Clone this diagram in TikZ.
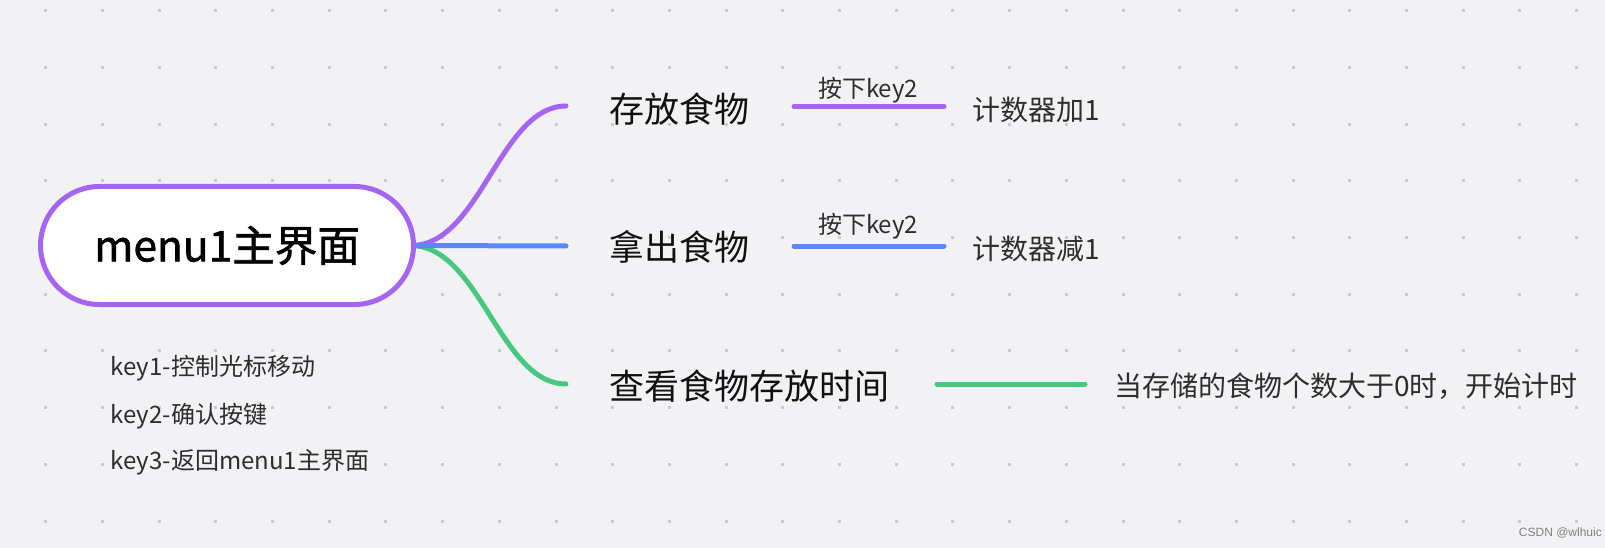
\documentclass[tikz,border=0pt]{standalone}
\usepackage{fontspec}
\newfontfamily\cjk{Noto Sans CJK SC}
\newfontfamily\cjkm{Noto Sans CJK SC}[FakeBold=1.4]
\newfontfamily\wm{Liberation Sans}
\definecolor{bg}{HTML}{F2F2F4}
\definecolor{dotc}{HTML}{CBCBCE}
\definecolor{purp}{HTML}{A465F1}
\definecolor{blu}{HTML}{5A88F8}
\definecolor{grn}{HTML}{46C881}
\definecolor{txt}{HTML}{111111}
\definecolor{subtxt}{HTML}{2E2E2E}
\pgfdeclarelayer{lines}
\pgfsetlayers{lines,main}
\tikzset{
  rootbox/.style={draw=purp, line width=5pt, fill=white, rectangle, rounded corners=59pt,
    minimum width=373pt, minimum height=118pt, inner sep=0pt, text=black,
    font=\cjkm\fontsize{42.5}{50}\selectfont},
  branchtxt/.style={anchor=west, inner sep=0pt, text=txt, font=\cjk\fontsize{35}{40}\selectfont},
  restxt/.style={anchor=west, inner sep=0pt, text=subtxt, font=\cjk\fontsize{28}{32}\selectfont},
  lbltxt/.style={inner sep=0pt, text=subtxt, font=\cjk\fontsize{24}{28}\selectfont},
  notetxt/.style={anchor=west, inner sep=0pt, text=subtxt, font=\cjk\fontsize{24}{28}\selectfont},
  br/.style={line width=5pt, line cap=round},
}
\begin{document}
\begin{tikzpicture}[x=1pt,y=-1pt]
\begin{pgfonlayer}{lines}
\fill[bg] (0,0) rectangle (1605,548);
\foreach \i in {0,...,27}{
  \foreach \j in {0,...,9}{
    \fill[dotc] ({45.7+56.7*\i-1.5},{10.7+56.7*\j-1.5}) rectangle +(3,3);
  }
}
\end{pgfonlayer}
\useasboundingbox (0,0) rectangle (1605,548);
% coordinates for branch ends
\coordinate (e1) at (566,106);
\coordinate (e2) at (566,246);
\coordinate (e3) at (566,384);
\coordinate (s1a) at (794,106.5);
\coordinate (s1b) at (944,106.5);
\coordinate (s2a) at (794,246);
\coordinate (s2b) at (944,246);
\coordinate (s3a) at (937,384);
\coordinate (s3b) at (1085,384);
% root
\node[rootbox] (root) at (227,245.5) {menu1主界面};
% main branches, behind the root
\begin{pgfonlayer}{lines}
\draw[br, purp] ([xshift=-5pt]root.east) .. controls (480,246) and (500,106) .. (e1);
\draw[br, grn] ([xshift=-5pt]root.east) .. controls (480,246) and (500,384) .. (e3);
\draw[br, blu] ([xshift=-5pt]root.east) -- (e2);
\end{pgfonlayer}
% branch texts
\node[branchtxt] (b1) at (609,109) {存放食物};
\node[branchtxt] (b2) at (609,247) {拿出食物};
\node[branchtxt] (b3) at (609,386) {查看食物存放时间};
% sub lines
\draw[br, purp] (s1a) -- (s1b);
\draw[br, blu] (s2a) -- (s2b);
\draw[br, grn] (s3a) -- (s3b);
\node[lbltxt] (l1) at (868,90) {按下key2};
\node[lbltxt] (l2) at (868,226) {按下key2};
% results
\node[restxt] (r1) at (972,110) {计数器加1};
\node[restxt] (r2) at (972,249) {计数器减1};
\node[restxt] (r3) at (1114,386) {当存储的食物个数大于0时，开始计时};
% notes
\node[notetxt] (n1) at (110.5,368.5) {key1-控制光标移动};
\node[notetxt] (n2) at (110.5,416.5) {key2-确认按键};
\node[notetxt] (n3) at (110.5,462.5) {key3-返回menu1主界面};
% watermark
\node[anchor=east, inner sep=0pt, text=gray, font=\wm\fontsize{12}{14}\selectfont] (wm) at (1602,533) {CSDN @wlhuic};
\end{tikzpicture}
\end{document}
